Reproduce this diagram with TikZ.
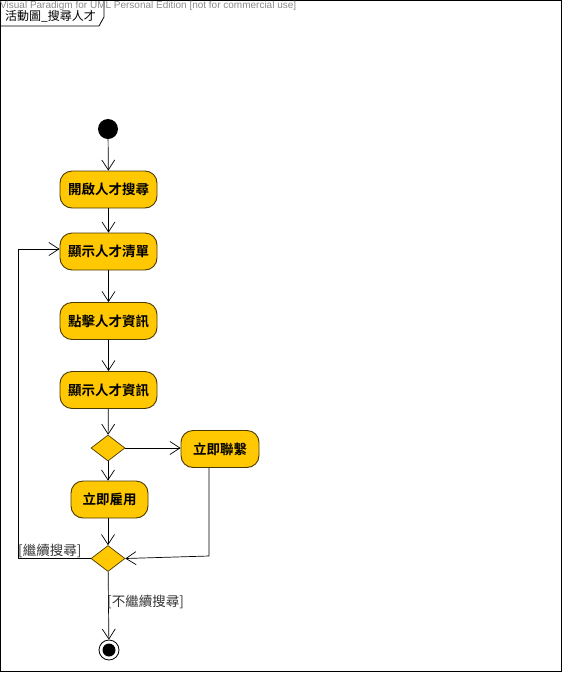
\documentclass[tikz,border=0pt]{standalone}
\usepackage{fontspec}
\setmainfont{Liberation Sans}
\newfontfamily\cjk{Noto Sans CJK TC}
\newfontfamily\cjkbold{Noto Sans CJK TC Bold}
\usetikzlibrary{arrows.meta,shapes.geometric}
\definecolor{actfill}{HTML}{FFC800}
\definecolor{actline}{HTML}{4A3A00}
\definecolor{wmgray}{HTML}{8A8A8A}
\definecolor{lblgray}{HTML}{333333}
\tikzset{
  action/.style={draw=actline, fill=actfill, rounded corners=12pt, line width=0.9pt,
    minimum height=37pt, inner sep=0pt, font=\cjkbold\fontsize{13.5}{15}\selectfont},
  decision/.style={draw=actline, fill=actfill, diamond, aspect=1.3, line width=0.7pt,
    minimum width=34pt, minimum height=26pt, inner sep=0pt},
  flow/.style={draw=black, line width=0.7pt, -{Straight Barb[length=10pt,width=13pt,line width=0.7pt]}},
  guard/.style={text=lblgray, font=\cjk\fontsize{13.5}{15}\selectfont, inner sep=0pt}
}
\begin{document}
\begin{tikzpicture}[x=1pt,y=-1pt]
\useasboundingbox (0,0) rectangle (563,673);
% diagram frame and title tab
\draw[line width=0.8pt] (0.5,0.5) rectangle (561.5,671.5);
\draw[line width=0.8pt] (0.5,26) -- (99,26) -- (104,17) -- (104,0.5);
\node[anchor=west, inner sep=0pt, text=wmgray, font=\fontsize{10}{12}\selectfont] (wm) at (0,6) {Visual Paradigm for UML Personal Edition [not for commercial use]};
\node[anchor=west, inner sep=0pt, font=\cjk\fontsize{12}{14}\selectfont] (title) at (5,16) {活動圖\_搜尋人才};

% nodes
\node[circle, fill=black, minimum size=20pt, inner sep=0pt] (start) at (108,129) {};
\node[action, minimum width=97pt] (open) at (108.5,189.5) {開啟人才搜尋};
\node[action, minimum width=97pt] (list) at (108.5,251.5) {顯示人才清單};
\node[action, minimum width=97pt] (click) at (108.5,321) {點擊人才資訊};
\node[action, minimum width=97pt] (show) at (108.5,390) {顯示人才資訊};
\node[decision] (d1) at (108,448) {};
\node[action, minimum width=78pt] (contact) at (220,449) {立即聯繫};
\node[action, minimum width=77pt] (hire) at (109.5,499.5) {立即雇用};
\node[decision] (d2) at (108,558.5) {};
\node[circle, draw=black, line width=0.8pt, fill=white, minimum size=20pt, inner sep=0pt] (endo) at (109,650) {};
\node[circle, fill=black, minimum size=13pt, inner sep=0pt] (endi) at (109,650) {};

\coordinate (loopL) at (18,558.5);
\coordinate (loopT) at (18,249);
\coordinate (cDown) at (209,556);

% flows
\draw[flow] (start) -- (open);
\draw[flow] (open) -- (list);
\draw[flow] (list) -- (click);
\draw[flow] (click) -- (show);
\draw[flow] (show) -- (d1);
\draw[flow] (d1) -- (contact.west |- d1);
\draw[flow] (d1) -- (d1.south |- hire.north);
\draw[flow] (hire.south -| d2) -- (d2);
\draw[flow] (contact.south -| cDown) -- (cDown) -- (d2.east);
\draw[flow] (d2.west) -- (loopL) -- (loopT) -- (list.west |- loopT);
\draw[flow] (d2) -- (endo);

% guards
\node[guard, anchor=west] (g1) at (18,551) {[繼續搜尋]};
\node[guard, anchor=west] (g2) at (107,602) {[不繼續搜尋]};
\end{tikzpicture}
\end{document}
